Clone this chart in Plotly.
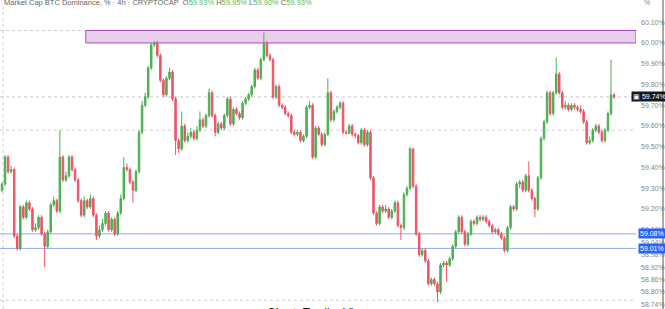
import plotly.graph_objects as go

# ---------------- data ----------------
opens = [
    59.29, 59.32, 59.45, 59.38, 59.39, 59.07, 59.01, 59.21, 59.16, 59.23,
    59.20, 59.10, 59.11, 59.16, 59.08, 59.02, 59.09, 59.22, 59.24, 59.19,
    59.45, 59.34, 59.36, 59.45, 59.39, 59.34, 59.24, 59.17, 59.24, 59.21,
    59.25, 59.17, 59.07, 59.10, 59.13, 59.18, 59.10, 59.15, 59.08, 59.18,
    59.25, 59.40, 59.39, 59.33, 59.29, 59.38, 59.57, 59.70, 59.74, 59.88,
    59.99, 60.00, 59.94, 59.82, 59.75, 59.83, 59.86, 59.73,
    59.53, 59.49, 59.60, 59.53, 59.55, 59.57, 59.54, 59.58, 59.63,
    59.60, 59.65, 59.76, 59.65, 59.57, 59.61, 59.59, 59.65, 59.73, 59.61,
    59.68, 59.66, 59.64, 59.71, 59.73, 59.75, 59.79, 59.87, 59.83, 59.92,
    60.00, 59.94, 59.92, 59.74, 59.79, 59.70, 59.69, 59.66, 59.65, 59.57,
    59.56, 59.57, 59.53, 59.55, 59.69, 59.70, 59.45, 59.59, 59.56, 59.51,
    59.56, 59.76, 59.63, 59.67, 59.69, 59.71, 59.57, 59.565, 59.60, 59.56,
    59.555, 59.52, 59.58, 59.51, 59.57, 59.35, 59.18, 59.13, 59.21, 59.19,
    59.20, 59.16, 59.19, 59.23, 59.12, 59.11, 59.27, 59.30, 59.49, 59.31,
    59.08, 58.98, 59.00, 58.95, 58.84, 58.86, 58.84, 58.80, 58.93, 58.94,
    58.93, 58.96, 59.02, 59.09, 59.16, 59.09, 59.03, 59.08, 59.14, 59.13,
    59.16, 59.15,
    59.16, 59.14, 59.12, 59.09, 59.10, 59.08, 59.06, 59.00, 59.11, 59.21,
    59.20, 59.32, 59.33, 59.29, 59.36, 59.29, 59.25, 59.20, 59.35, 59.54,
    59.62, 59.76, 59.66, 59.76, 59.85, 59.76, 59.69, 59.70, 59.68, 59.70,
    59.69,
    59.68, 59.67, 59.62, 59.52, 59.53, 59.58, 59.60, 59.57, 59.53, 59.58,
    59.66, 59.75,
]
highs = [
    59.33, 59.46, 59.46, 59.41, 59.40, 59.08, 59.22, 59.22, 59.24, 59.24,
    59.21, 59.13, 59.17, 59.17, 59.09, 59.10, 59.23, 59.26, 59.25, 59.58,
    59.46, 59.38, 59.46, 59.46, 59.40, 59.35, 59.25, 59.26, 59.25, 59.27,
    59.26, 59.18, 59.12, 59.15, 59.19, 59.19, 59.16, 59.16, 59.19, 59.27,
    59.45, 59.42, 59.40, 59.34, 59.39, 59.58, 59.72, 59.76, 59.89, 60.00,
    60.01, 60.01, 59.95, 59.83, 59.84, 59.88, 59.87, 59.74,
    59.54, 59.67, 59.61, 59.57, 59.59, 59.58, 59.60, 59.67, 59.64,
    59.66, 59.78, 59.77, 59.66, 59.62, 59.62, 59.66, 59.74, 59.74, 59.69,
    59.69, 59.67, 59.72, 59.74, 59.76, 59.80, 59.88, 59.88, 59.93, 60.05,
    60.01, 59.95, 59.93, 59.80, 59.80, 59.71, 59.70, 59.67, 59.66, 59.58,
    59.58, 59.58, 59.56, 59.70, 59.72, 59.71, 59.60, 59.60, 59.57, 59.57,
    59.83, 59.77, 59.68, 59.70, 59.72, 59.72, 59.58, 59.61, 59.61, 59.57,
    59.56, 59.59, 59.59, 59.58, 59.58, 59.36, 59.19, 59.22, 59.22, 59.22,
    59.21, 59.20, 59.24, 59.24, 59.13, 59.28, 59.31, 59.50, 59.49, 59.32,
    59.09, 59.01, 59.01, 58.96, 58.87, 58.87, 58.85, 58.94, 58.95, 58.95,
    58.97, 59.03, 59.10, 59.17, 59.17, 59.10, 59.09, 59.15, 59.15, 59.17,
    59.17, 59.17,
    59.17, 59.15, 59.13, 59.11, 59.11, 59.09, 59.07, 59.12, 59.22, 59.22,
    59.33, 59.34, 59.34, 59.37, 59.43, 59.30, 59.26, 59.36, 59.55, 59.63,
    59.77, 59.77, 59.77, 59.93, 59.86, 59.77, 59.72, 59.71, 59.71, 59.71,
    59.70,
    59.70, 59.68, 59.63, 59.55, 59.59, 59.61, 59.61, 59.58, 59.59, 59.67,
    59.92, 59.76,
]
lows = [
    59.28, 59.31, 59.37, 59.37, 59.06, 59.00, 59.00, 59.15, 59.15, 59.19,
    59.09, 59.09, 59.10, 59.07, 58.92, 59.01, 59.08, 59.21, 59.18, 59.18,
    59.33, 59.33, 59.35, 59.38, 59.33, 59.23, 59.16, 59.16, 59.20, 59.20,
    59.16, 59.05, 59.06, 59.09, 59.12, 59.09, 59.09, 59.07, 59.07, 59.17,
    59.24, 59.38, 59.32, 59.23, 59.28, 59.37, 59.56, 59.69, 59.73, 59.87,
    59.98, 59.93, 59.81, 59.74, 59.74, 59.82, 59.72, 59.46,
    59.47, 59.48, 59.52, 59.52, 59.54, 59.53, 59.53, 59.57, 59.59,
    59.59, 59.64, 59.64, 59.55, 59.56, 59.58, 59.58, 59.64, 59.60, 59.60,
    59.65, 59.63, 59.63, 59.70, 59.72, 59.74, 59.78, 59.82, 59.82, 59.91,
    59.93, 59.91, 59.73, 59.73, 59.69, 59.68, 59.65, 59.64, 59.56, 59.55,
    59.55, 59.52, 59.52, 59.54, 59.68, 59.44, 59.44, 59.55, 59.50, 59.50,
    59.55, 59.62, 59.62, 59.66, 59.68, 59.56, 59.56, 59.56, 59.55, 59.54,
    59.51, 59.51, 59.50, 59.50, 59.34, 59.17, 59.12, 59.12, 59.18, 59.18,
    59.15, 59.15, 59.18, 59.11, 59.05, 59.10, 59.26, 59.29, 59.30, 59.07,
    58.97, 58.97, 58.94, 58.83, 58.83, 58.83, 58.75, 58.79, 58.92, 58.85,
    58.92, 58.95, 59.01, 59.08, 59.08, 59.02, 59.02, 59.07, 59.12, 59.12,
    59.14, 59.14,
    59.13, 59.11, 59.08, 59.08, 59.07, 59.05, 58.99, 58.99, 59.10, 59.19,
    59.19, 59.30, 59.28, 59.28, 59.28, 59.24, 59.16, 59.19, 59.34, 59.53,
    59.61, 59.65, 59.65, 59.75, 59.75, 59.68, 59.68, 59.67, 59.67, 59.68,
    59.67,
    59.66, 59.61, 59.51, 59.51, 59.52, 59.57, 59.56, 59.52, 59.52, 59.57,
    59.65, 59.73,
]
closes = [
    59.32, 59.45, 59.38, 59.39, 59.07, 59.01, 59.21, 59.16, 59.23, 59.20,
    59.10, 59.11, 59.16, 59.08, 59.02, 59.09, 59.22, 59.24, 59.19, 59.45,
    59.34, 59.36, 59.45, 59.39, 59.34, 59.24, 59.17, 59.24, 59.21, 59.25,
    59.17, 59.07, 59.10, 59.13, 59.18, 59.10, 59.15, 59.08, 59.18, 59.25,
    59.40, 59.39, 59.33, 59.29, 59.38, 59.57, 59.70, 59.74, 59.88, 59.99,
    60.00, 59.94, 59.82, 59.75, 59.83, 59.86, 59.73, 59.53,
    59.49, 59.60, 59.53, 59.55, 59.57, 59.54, 59.58, 59.63, 59.60,
    59.65, 59.76, 59.65, 59.57, 59.61, 59.59, 59.65, 59.73, 59.61, 59.68,
    59.66, 59.64, 59.71, 59.73, 59.75, 59.79, 59.87, 59.83, 59.92, 60.00,
    59.94, 59.92, 59.74, 59.79, 59.70, 59.69, 59.66, 59.65, 59.57, 59.56,
    59.57, 59.53, 59.55, 59.69, 59.70, 59.45, 59.59, 59.56, 59.51, 59.56,
    59.76, 59.63, 59.67, 59.69, 59.71, 59.57, 59.565, 59.60, 59.56, 59.555,
    59.52, 59.58, 59.51, 59.57, 59.35, 59.18, 59.13, 59.21, 59.19, 59.20,
    59.16, 59.19, 59.23, 59.12, 59.11, 59.27, 59.30, 59.49, 59.31, 59.08,
    58.98, 59.00, 58.95, 58.84, 58.86, 58.84, 58.80, 58.93, 58.94, 58.93,
    58.96, 59.02, 59.09, 59.16, 59.09, 59.03, 59.08, 59.14, 59.13, 59.16,
    59.15, 59.16,
    59.14, 59.12, 59.09, 59.10, 59.08, 59.06, 59.00, 59.11, 59.21, 59.20,
    59.32, 59.33, 59.29, 59.36, 59.29, 59.25, 59.20, 59.35, 59.54, 59.62,
    59.76, 59.66, 59.76, 59.85, 59.76, 59.69, 59.70, 59.68, 59.70, 59.69,
    59.68,
    59.67, 59.62, 59.52, 59.53, 59.58, 59.60, 59.57, 59.53, 59.58, 59.66,
    59.75, 59.74,
]
bars = list(range(len(closes)))

tick_values = [60.10, 60.00, 59.90, 59.80, 59.70, 59.60, 59.50, 59.40, 59.30,
               59.20, 59.10, 59.04, 58.98, 58.92, 58.86, 58.80, 58.74]
tick_labels = ["60.10%", "60.00%", "59.90%", "59.80%", "59.70%", "59.60%",
               "59.50%", "59.40%", "59.30%", "59.20%", "59.10%", "59.04%",
               "58.98%", "58.92%", "58.86%", "58.80%", "58.74%"]

resistance_zone = (60.00, 60.06)      # purple box (price range)
zone_start_bar = 27.5
support_levels = [59.08, 59.01]       # blue horizontal lines
support_labels = ["59.08%", "59.01%"]
last_price = 59.74
last_label = "59.74%"
dotted_levels = [60.06, 59.58, 58.76]

title_main = "Market Cap BTC Dominance, % · 4h · CRYPTOCAP"
ohlc_text = [("O", "59.93%"), ("H", "59.95%"), ("L", "59.90%"), ("C", "59.93%")]
caption = "Chart: TradingView"

# ---------------- figure ----------------
UP = "#4caf50"
DOWN = "#ef5368"

fig = go.Figure()
fig.add_trace(go.Candlestick(
    x=bars, open=opens, high=highs, low=lows, close=closes,
    increasing=dict(line=dict(color=UP, width=1), fillcolor=UP),
    decreasing=dict(line=dict(color=DOWN, width=1), fillcolor=DOWN),
    whiskerwidth=0, showlegend=False, hoverinfo="skip",
))

x_end = len(bars) + 6.2
shapes = []
shapes.append(dict(type="rect", xref="x", yref="y", x0=zone_start_bar, x1=x_end,
                   y0=resistance_zone[0], y1=resistance_zone[1],
                   fillcolor="rgba(206,147,216,0.45)",
                   line=dict(color="#a050b8", width=1), layer="below"))
for lv in dotted_levels:
    shapes.append(dict(type="line", xref="paper", yref="y", x0=0, x1=1, y0=lv, y1=lv,
                       line=dict(color="#d0d0d0", width=1, dash="dot"), layer="below"))
shapes.append(dict(type="line", xref="paper", yref="y", x0=0, x1=1,
                   y0=last_price, y1=last_price,
                   line=dict(color="#c8c8c8", width=1, dash="dot"), layer="below"))
shapes.append(dict(type="line", xref="paper", yref="paper", x0=0.005, x1=0.005, y0=0, y1=0.98,
                   line=dict(color="#d0d0d0", width=1, dash="dot"), layer="below"))
for lv in support_levels:
    shapes.append(dict(type="line", xref="paper", yref="y", x0=0, x1=1.0, y0=lv, y1=lv,
                       line=dict(color="#8fa8f2", width=1), layer="below"))
shapes.append(dict(type="line", xref="paper", yref="paper", x0=1.0425, x1=1.0425, y0=0, y1=1,
                   line=dict(color="#555555", width=1)))

annotations = []
ohlc_html = " ".join(f"{k}<span style='color:#5cb85c'>{v}</span>" for k, v in ohlc_text)
annotations.append(dict(xref="paper", yref="paper", x=0.003, y=1, xanchor="left",
                        yanchor="top", yshift=4, showarrow=False,
                        text=title_main + "  " + ohlc_html,
                        font=dict(family="Liberation Sans, Arial", size=7.5, color="#666666")))
annotations.append(dict(xref="paper", yref="paper", x=1.01, y=1, xanchor="left",
                        yanchor="top", yshift=3, showarrow=False, text="%",
                        font=dict(family="Liberation Sans, Arial", size=7, color="#888888")))
annotations.append(dict(xref="paper", yref="y", x=0.992, y=last_price, xanchor="left",
                        yanchor="middle", showarrow=False, text="▣ " + last_label,
                        bgcolor="#131722", borderpad=1,
                        font=dict(family="Liberation Sans, Arial", size=7, color="#ffffff")))
for lv, lab in zip(support_levels, support_labels):
    annotations.append(dict(xref="paper", yref="y", x=1.003, y=lv, xanchor="left",
                            yanchor="middle", showarrow=False, text=lab,
                            bgcolor="#2962ff", borderpad=1,
                            font=dict(family="Liberation Sans, Arial", size=7, color="#ffffff")))
annotations.append(dict(xref="paper", yref="paper", x=0.5, y=0, xanchor="center",
                        yanchor="top", yshift=5, showarrow=False, text=caption,
                        font=dict(family="Liberation Sans, Arial", size=12, color="#222222")))

fig.update_layout(
    width=665, height=309,
    margin=dict(l=0, r=29, t=0, b=0),
    paper_bgcolor="white", plot_bgcolor="white",
    shapes=shapes, annotations=annotations,
    xaxis=dict(range=[-0.66, x_end], visible=False, rangeslider=dict(visible=False),
               showgrid=False, fixedrange=True),
    yaxis=dict(range=[58.718, 60.207], side="right", showgrid=False, zeroline=False,
               tickmode="array", tickvals=tick_values, ticktext=tick_labels,
               ticks="", ticklabelstandoff=4,
               tickfont=dict(family="Liberation Sans, Arial", size=7, color="#888888"),
               showline=False, fixedrange=True),
)

fig.write_html("out.html")
